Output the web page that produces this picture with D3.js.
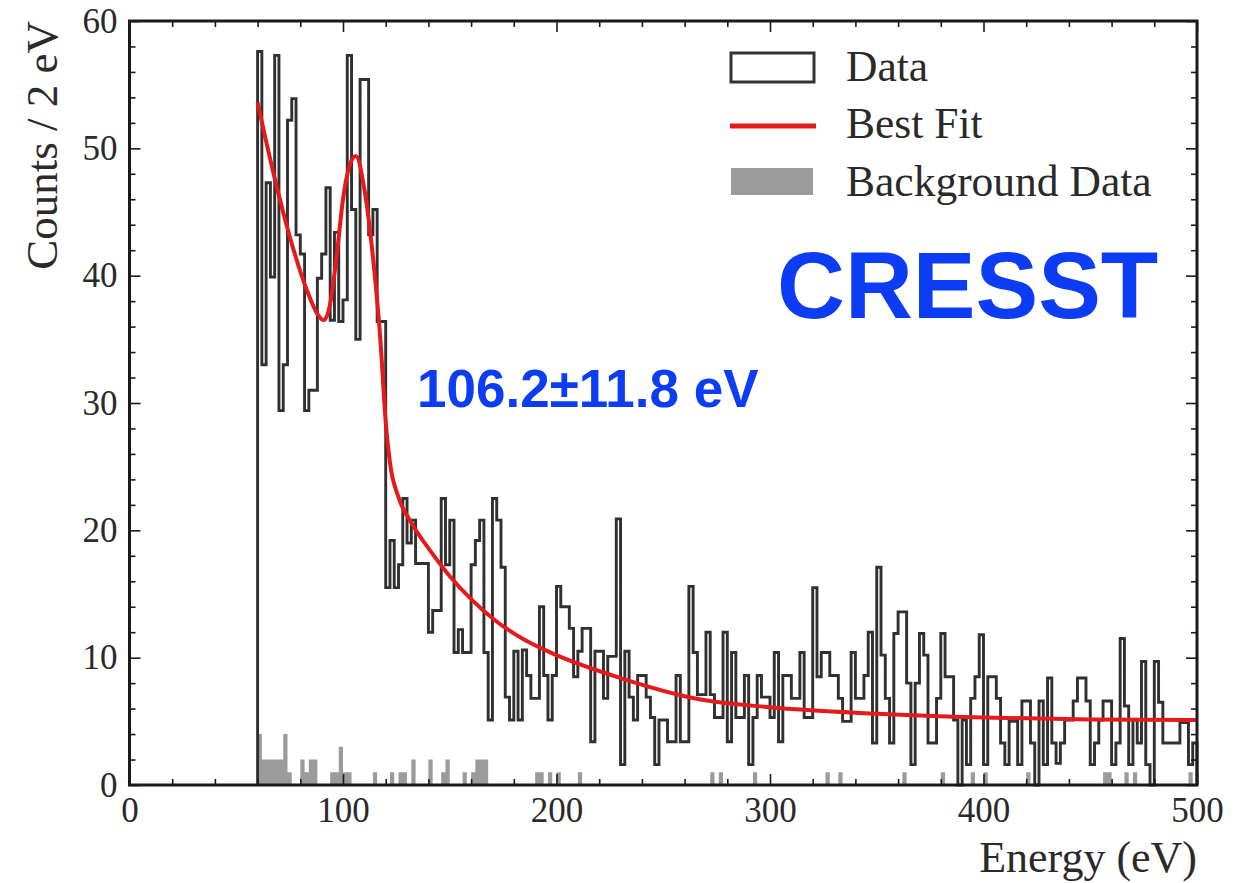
<!DOCTYPE html>
<html>
<head>
<meta charset="utf-8">
<script src="https://d3js.org/d3.v7.min.js"></script>
<style>
  body { margin: 0; background: #fff; }
  svg { display: block; }
  .tick text { font-family: "Liberation Serif", serif; fill: #2a2a2a; }
</style>
</head>
<body>
<svg id="chart"></svg>
<script>
    // histogram: 2 eV bins starting at 60 eV
    var binStart = 60;
    var binWidth = 2;

    var dataCounts = [
        57.6,33.0,47.3,39.9,57.3,29.4,33.0,52.2,53.9,43.2,41.7,29.4,31.0,31.0,39.8,41.7,46.9,36.5,43.4,36.4,
        38.1,57.3,45.2,35.0,55.4,55.4,43.2,45.2,36.4,36.4,15.5,19.2,15.5,17.3,22.5,19.0,20.8,17.4,17.4,17.4,
        12.0,13.7,13.7,22.5,17.3,20.8,10.4,12.2,10.4,10.4,17.3,19.2,20.8,10.4,5.1,22.5,20.8,17.1,6.9,5.1,
        10.5,5.1,10.6,8.6,6.8,6.8,14.0,8.6,5.1,8.6,15.6,14.0,14.0,12.3,8.5,10.5,12.3,12.3,3.4,10.5,
        10.5,6.8,10.1,10.1,20.9,1.6,10.5,6.9,5.1,8.6,8.6,6.9,5.3,1.6,5.1,5.1,3.4,3.4,8.6,3.4,
        3.4,15.6,10.4,7.1,7.1,12.0,7.1,5.3,5.3,12.0,3.4,10.4,5.3,5.3,8.6,1.6,5.3,8.6,6.9,6.9,
        5.3,10.4,3.4,8.6,8.6,6.8,6.8,10.4,5.3,5.3,15.5,8.5,10.4,10.4,8.6,8.6,6.8,5.0,5.0,10.4,
        6.8,6.8,8.6,12.0,3.3,17.1,10.2,6.8,3.3,11.9,13.6,13.6,8.0,1.6,8.0,11.9,10.2,3.3,3.3,6.8,
        11.9,8.5,8.5,5.1,0,5.1,1.6,6.8,8.5,11.8,1.6,8.5,8.5,6.8,3.3,1.6,5.0,5.0,1.6,6.6,
        6.6,3.3,0,6.6,1.6,8.4,3.3,1.7,3.3,5.1,5.1,6.6,8.4,8.4,6.6,1.6,3.3,5.1,6.6,6.6,
        1.6,3.3,11.5,6.2,1.6,5.1,3.3,9.7,1.6,0,9.7,6.5,3.3,3.3,3.3,3.3,4.9,4.9,1.6,3.3
    ];

    var bgCounts = [
        4,2,2,2,2,2,4,1,0,0,2,1,2,2,0,0,0,1,1,3,
        1,1,0,0,0,0,0,1,0,0,0,1,0,1,1,0,2,0,0,0,
        2,0,0,1,2,0,0,0,1,0,1,2,2,2,0,0,0,0,0,0,
        0,0,0,0,0,1,1,0,1,0,1,0,0,0,0,1,0,0,0,0,
        0,0,0,0,0,0,0,0,0,0,0,0,0,0,0,0,0,0,0,0,
        0,0,0,0,0,0,1,0,1,0,0,0,0,0,0,0,1,0,0,0,
        0,0,0,0,0,0,0,0,0,0,0,0,0,1,0,0,1,0,0,0,
        0,0,0,0,0,0,0,0,0,0,0,1,0,0,0,0,0,0,0,0,
        1,0,0,0,0,0,0,1,0,0,1,0,0,0,0,0,0,0,0,0,
        1,0,0,0,0,0,0,0,0,0,0,0,0,0,0,0,0,0,1,1,
        0,0,0,1,0,1,0,0,0,0,0,0,0,0,0,0,0,0,1,0
    ];

    // best fit curve
    var fitEnergy = [60, 67.5, 75, 83, 88, 91, 94, 97, 100, 103, 106, 110, 114, 117.5, 120, 122, 126, 132, 140, 150, 160, 170, 185, 200, 230, 265, 300, 350, 400, 450, 500];
    var fitCounts = [53.6, 48.0, 43.1, 38.9, 37.0, 36.5, 37.8, 41.5, 46.0, 48.6, 49.4, 46.8, 41.5, 35.0, 28.5, 25.3, 22.6, 20.6, 18.6, 16.4, 14.6, 13.1, 11.4, 10.2, 8.4, 6.8, 6.1, 5.6, 5.3, 5.15, 5.1];

    var xMajor = [0, 100, 200, 300, 400, 500];
    var yMajor = [0, 10, 20, 30, 40, 50, 60];

    // Variables
    var width = 1247;
    var height = 883;
    var plotL = 129.5, plotR = 1197, plotT = 21, plotB = 785;

    var svg = d3.select('#chart')
        .attr('width', width)
        .attr('height', height);

    svg.append('rect').attr('width', width).attr('height', height).attr('fill', '#fff');

    var x = d3.scaleLinear().domain([0, 500]).range([plotL, plotR]);
    var y = d3.scaleLinear().domain([0, 60]).range([plotB, plotT]);

    // step points for a histogram
    function stepPoints(counts) {
        var pts = counts.map(function (v, i) { return [binStart + i * binWidth, v]; });
        pts.push([binStart + counts.length * binWidth, counts[counts.length - 1]]);
        return pts;
    }

    // background data, filled
    var bgArea = d3.area()
        .curve(d3.curveStepAfter)
        .x(function (d) { return x(d[0]); })
        .y0(y(0))
        .y1(function (d) { return y(d[1]); });

    svg.append('path')
        .attr('d', bgArea(stepPoints(bgCounts)))
        .attr('fill', '#9b9b9b');

    // data, outline only
    var dataPts = stepPoints(dataCounts);
    dataPts.unshift([binStart, 0]);
    dataPts.push([binStart + dataCounts.length * binWidth, 0]);

    var stepLine = d3.line()
        .curve(d3.curveStepAfter)
        .x(function (d) { return x(d[0]); })
        .y(function (d) { return y(d[1]); });

    svg.append('path')
        .attr('d', stepLine(dataPts))
        .attr('fill', 'none')
        .attr('stroke', '#303030')
        .attr('stroke-width', 2.9);

    // best fit
    var fitLine = d3.line()
        .curve(d3.curveMonotoneX)
        .x(function (d) { return x(d[0]); })
        .y(function (d) { return y(d[1]); });

    svg.append('path')
        .attr('d', fitLine(fitEnergy.map(function (e, i) { return [e, fitCounts[i]]; })))
        .attr('fill', 'none')
        .attr('stroke', '#e41a1c')
        .attr('stroke-width', 4);

    // axes, ticks pointing inwards
    var xMinor = d3.range(0, 501, 20).filter(function (v) { return v % 100; });
    var yMinor = d3.range(0, 61, 2).filter(function (v) { return v % 10; });

    function styleAxis(g) {
        g.select('.domain').remove();
        g.selectAll('.tick line').attr('stroke', '#1a1a1a').attr('stroke-width', 1.6);
    }

    svg.append('g').attr('transform', 'translate(0,' + plotB + ')')
        .call(d3.axisBottom(x).tickValues(xMajor).tickSize(-11).tickPadding(12))
        .call(styleAxis)
        .selectAll('text').style('font-size', '35px');
    svg.append('g').attr('transform', 'translate(0,' + plotB + ')')
        .call(d3.axisBottom(x).tickValues(xMinor).tickSize(-6).tickFormat(''))
        .call(styleAxis);
    svg.append('g').attr('transform', 'translate(0,' + plotT + ')')
        .call(d3.axisTop(x).tickValues(xMajor).tickSize(-11).tickFormat(''))
        .call(styleAxis);
    svg.append('g').attr('transform', 'translate(0,' + plotT + ')')
        .call(d3.axisTop(x).tickValues(xMinor).tickSize(-6).tickFormat(''))
        .call(styleAxis);

    svg.append('g').attr('transform', 'translate(' + plotL + ',0)')
        .call(d3.axisLeft(y).tickValues(yMajor).tickSize(-11).tickPadding(12))
        .call(styleAxis)
        .selectAll('text').style('font-size', '35px');
    svg.append('g').attr('transform', 'translate(' + plotL + ',0)')
        .call(d3.axisLeft(y).tickValues(yMinor).tickSize(-6).tickFormat(''))
        .call(styleAxis);
    svg.append('g').attr('transform', 'translate(' + plotR + ',0)')
        .call(d3.axisRight(y).tickValues(yMajor).tickSize(-11).tickFormat(''))
        .call(styleAxis);
    svg.append('g').attr('transform', 'translate(' + plotR + ',0)')
        .call(d3.axisRight(y).tickValues(yMinor).tickSize(-6).tickFormat(''))
        .call(styleAxis);

    // frame
    svg.append('rect')
        .attr('x', plotL).attr('y', plotT)
        .attr('width', plotR - plotL).attr('height', plotB - plotT)
        .attr('fill', 'none')
        .attr('stroke', '#1a1a1a')
        .attr('stroke-width', 3);

    // axis titles
    var serif = '"Liberation Serif", serif';
    svg.append('text')
        .attr('transform', 'translate(57,' + plotT + ') rotate(-90)')
        .attr('text-anchor', 'end')
        .style('font-family', serif).style('font-size', '45px').style('fill', '#2a2a2a')
        .text('Counts / 2 eV');
    svg.append('text')
        .attr('x', plotR).attr('y', 872)
        .attr('text-anchor', 'end')
        .style('font-family', serif).style('font-size', '44px').style('fill', '#2a2a2a')
        .text('Energy (eV)');

    // legend
    var legend = svg.append('g');
    legend.append('rect')
        .attr('x', 731).attr('y', 53).attr('width', 83).attr('height', 29)
        .attr('fill', 'none').attr('stroke', '#333').attr('stroke-width', 3);
    legend.append('line')
        .attr('x1', 730).attr('x2', 816).attr('y1', 126).attr('y2', 126)
        .attr('stroke', '#e41a1c').attr('stroke-width', 5);
    legend.append('rect')
        .attr('x', 731).attr('y', 168).attr('width', 82).attr('height', 27)
        .attr('fill', '#9b9b9b');
    [['Data', 81], ['Best Fit', 138], ['Background Data', 196]].forEach(function (d) {
        legend.append('text')
            .attr('x', 846).attr('y', d[1])
            .style('font-family', serif).style('font-size', '43.5px').style('fill', '#2a2a2a')
            .text(d[0]);
    });

    // annotations
    var sans = '"Liberation Sans", Arial, sans-serif';
    svg.append('text')
        .attr('x', 777).attr('y', 318)
        .style('font-family', sans).style('font-weight', 'bold')
        .style('font-size', '94px').style('fill', '#0d3cf5')
        .text('CRESST');
    svg.append('text')
        .attr('x', 417).attr('y', 407)
        .style('font-family', sans).style('font-weight', 'bold')
        .style('font-size', '53px').style('fill', '#0d3cf5')
        .text('106.2±11.8 eV');
</script>
</body>
</html>
